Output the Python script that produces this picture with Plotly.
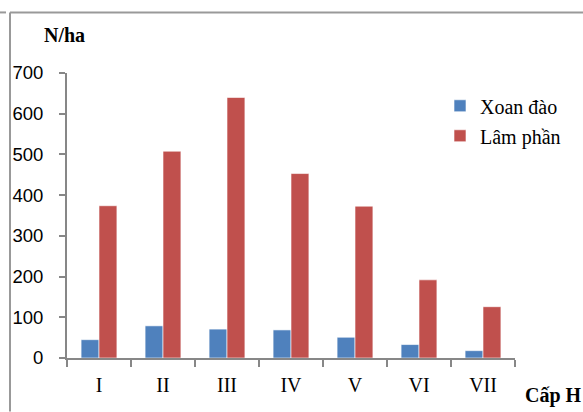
import plotly.graph_objects as go

categories = ["I", "II", "III", "IV", "V", "VI", "VII"]
xoan_dao = [45, 79, 71, 69, 51, 33, 18]
lam_phan = [374, 508, 640, 453, 373, 192, 126]
y_ticks = [0, 100, 200, 300, 400, 500, 600, 700]

W, H = 583, 412
L, R = 67, 515          # plot area in pixels
T, B = 72.7, 358.3

def px(x):
    return (x - L) / (R - L)

def py(y):
    return (B - y) / (B - T)

fig = go.Figure()
fig.add_trace(go.Bar(x=categories, y=xoan_dao, name="Xoan đào", legendgroup="a",
                     marker=dict(color="#4F81BD", line=dict(color="rgba(255,255,255,0.6)", width=1))))
fig.add_trace(go.Bar(x=categories, y=lam_phan, name="Lâm phần", legendgroup="b",
                     marker=dict(color="#C0504D", line=dict(color="rgba(255,255,255,0.6)", width=1))))

axis_col = "#878787"
fig.update_layout(
    width=W, height=H,
    margin=dict(l=L, r=W - R, t=T, b=H - B, autoexpand=False),
    paper_bgcolor="white", plot_bgcolor="white",
    barmode="group", bargap=0.44, bargroupgap=0,
    showlegend=True,
    legend=dict(x=px(440), y=py(86), xanchor="left", yanchor="top",
                font=dict(family="Liberation Serif", size=20, color="black"),
                itemwidth=30, tracegroupgap=1, bgcolor="rgba(0,0,0,0)"),
    xaxis=dict(showgrid=False, showline=True, linecolor=axis_col, linewidth=2,
               ticks="outside", tickson="boundaries", ticklen=7, tickcolor=axis_col, tickwidth=2,
               tickfont=dict(family="Liberation Serif", size=20, color="black"),
               ticklabelstandoff=8),
    yaxis=dict(range=[0, 700], tickvals=y_ticks, showgrid=False, zeroline=False,
               showline=True, linecolor=axis_col, linewidth=2,
               ticks="outside", ticklen=6, tickcolor=axis_col, tickwidth=2,
               tickfont=dict(family="Liberation Sans", size=18.5, color="black"),
               ticklabelstandoff=12),
    annotations=[
        dict(text="<b>N/ha</b>", x=px(42), y=py(35), xref="paper", yref="paper",
             xanchor="left", yanchor="middle", showarrow=False,
             font=dict(family="Liberation Serif", size=20, color="black")),
        dict(text="<b>Cấp H</b>", x=px(523), y=py(396), xref="paper", yref="paper",
             xanchor="left", yanchor="middle", showarrow=False,
             font=dict(family="Liberation Serif", size=20, color="black")),
    ],
    shapes=[
        dict(type="line", xref="paper", yref="paper", x0=px(10), x1=px(583), y0=py(12), y1=py(12),
             line=dict(color="#999999", width=2)),
        dict(type="line", xref="paper", yref="paper", x0=px(10), x1=px(10), y0=py(12), y1=py(412),
             line=dict(color="#999999", width=2)),
        dict(type="line", xref="paper", yref="paper", x0=px(0), x1=px(6), y0=py(12), y1=py(12),
             line=dict(color="#999999", width=2)),
    ],
)

fig.write_html("out.html", config={"displayModeBar": False},
               post_script="document.body.style.margin='0';document.body.style.overflow='hidden';")
